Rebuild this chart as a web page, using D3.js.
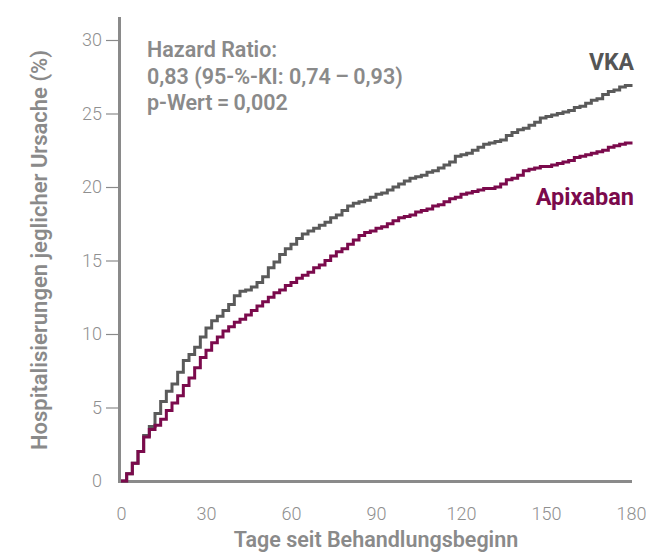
<!DOCTYPE html>
<html>
<head>
<meta charset="utf-8">
<script src="https://cdn.jsdelivr.net/npm/d3@7"></script>
<style>
html,body{margin:0;padding:0;background:#fff;}
svg{display:block;}
</style>
</head>
<body>
<svg id="chart" width="646" height="552"></svg>
<script>
const days = [0,2,4,6,8,10,12,14,16,18,20,22,24,26,28,30,32,34,36,38,40,42,44,46,48,50,52,54,56,58,60,62,64,66,68,70,72,74,76,78,80,82,84,86,88,90,92,94,96,98,100,102,104,106,108,110,112,114,116,118,120,122,124,126,128,130,132,134,136,138,140,142,144,146,148,150,152,154,156,158,160,162,164,166,168,170,172,174,176,178,180];
const vka = [0,0.5,1.2,2.0,3.1,3.7,4.6,5.4,6.1,6.6,7.4,8.2,8.6,9.1,9.8,10.4,10.9,11.2,11.6,12.0,12.6,12.9,13.0,13.2,13.5,13.9,14.5,14.9,15.4,15.8,16.1,16.5,16.8,17.0,17.2,17.4,17.6,17.9,18.1,18.4,18.7,18.9,19.0,19.1,19.3,19.5,19.6,19.8,20.0,20.2,20.4,20.6,20.7,20.8,21.0,21.1,21.3,21.5,21.7,22.1,22.2,22.3,22.5,22.7,22.9,23.0,23.1,23.2,23.5,23.7,23.9,24.0,24.2,24.4,24.7,24.8,24.9,25.0,25.1,25.2,25.4,25.5,25.7,25.9,26.0,26.3,26.5,26.6,26.8,26.9,27.0];
const apixaban = [0,0.5,1.2,2.0,3.0,3.5,3.8,4.2,4.8,5.3,5.8,6.5,7.0,7.7,8.4,8.9,9.4,9.8,10.2,10.5,10.8,11.0,11.3,11.6,11.9,12.2,12.5,12.8,13.0,13.3,13.5,13.8,14.0,14.2,14.5,14.7,15.0,15.3,15.6,15.8,16.1,16.4,16.7,16.9,17.0,17.2,17.3,17.5,17.7,17.9,18.0,18.1,18.3,18.4,18.5,18.7,18.8,19.0,19.2,19.3,19.5,19.6,19.7,19.8,19.9,19.9,20.0,20.2,20.5,20.6,20.8,21.1,21.2,21.3,21.4,21.4,21.5,21.6,21.7,21.8,22.0,22.1,22.2,22.3,22.4,22.5,22.7,22.8,22.9,23.0,23.1];
const xTicks = [0,30,60,90,120,150,180];
const yTicks = [0,5,10,15,20,25,30];
const seriesNames = ["VKA","Apixaban"];
const annotation = ["Hazard Ratio:","0,83 (95-%-KI: 0,74\u2009\u2013\u20090,93)","p-Wert\u2009=\u20090,002"];
const xTitle = "Tage seit Behandlungsbeginn";
const yTitle = "Hospitalisierungen jeglicher Ursache (%)";

const svg = d3.select("#chart");
const x = d3.scaleLinear().domain([0,180]).range([121,631]);
const y = d3.scaleLinear().domain([0,30]).range([481,40]);
const axisCol = "#8a8a8a";
const font = "Roboto, 'Open Sans', sans-serif";

// y axis ticks
const yAxis = svg.append("g").attr("transform","translate(119,0)")
  .call(d3.axisLeft(y).tickValues(yTicks).tickSize(13).tickPadding(4).tickFormat(d3.format("d")));
yAxis.select(".domain").remove();
yAxis.selectAll(".tick line").attr("stroke",axisCol).attr("stroke-width",1.2);
yAxis.selectAll(".tick text").attr("fill","#8f8f8f").attr("font-family",font).attr("font-weight",300).attr("font-size",18);
yAxis.selectAll(".tick").filter(d=>d===0).select("line").remove();

// x axis
const xAxis = svg.append("g").attr("transform","translate(0,481)")
  .call(d3.axisBottom(x).tickValues(xTicks).tickSize(0).tickPadding(26).tickFormat(d3.format("d")));
xAxis.select(".domain").remove();
xAxis.selectAll(".tick text").attr("fill","#8f8f8f").attr("font-family",font).attr("font-weight",300).attr("font-size",18);

// axis lines
svg.append("line").attr("x1",119.5).attr("x2",119.5).attr("y1",17).attr("y2",483).attr("stroke",axisCol).attr("stroke-width",3);
svg.append("line").attr("x1",118).attr("x2",632).attr("y1",481.5).attr("y2",481.5).attr("stroke",axisCol).attr("stroke-width",3);

// curves
const line = d3.line().curve(d3.curveStepAfter).x(d=>x(d[0])).y(d=>y(d[1]));
svg.append("path").datum(days.map((d,i)=>[d,vka[i]]))
  .attr("d",line).attr("fill","none").attr("stroke","#5a5a5a").attr("stroke-width",3);
svg.append("path").datum(days.map((d,i)=>[d,apixaban[i]]))
  .attr("d",line).attr("fill","none").attr("stroke","#7b0a4c").attr("stroke-width",3);

// series labels
svg.append("text").attr("x",634).attr("y",70).attr("text-anchor","end")
  .attr("font-family",font).attr("font-weight",700).attr("font-size",23).attr("fill","#555555").text(seriesNames[0]);
svg.append("text").attr("x",634).attr("y",205).attr("text-anchor","end")
  .attr("font-family",font).attr("font-weight",700).attr("font-size",23.5).attr("fill","#7b0a4c").text(seriesNames[1]);

// annotation
annotation.forEach((t,i)=>{
  svg.append("text").attr("x",147).attr("y",57+i*26.5)
    .attr("font-family",font).attr("font-weight",600).attr("font-size",21.5).attr("fill","#8a8a8a").text(t);
});

// titles
svg.append("text").attr("x",376).attr("y",547).attr("text-anchor","middle")
  .attr("font-family",font).attr("font-weight",600).attr("font-size",21.5).attr("fill","#8a8a8a").text(xTitle);
svg.append("text").attr("transform","translate(47,250) rotate(-90)").attr("text-anchor","middle")
  .attr("font-family",font).attr("font-weight",600).attr("font-size",22).attr("fill","#8a8a8a").text(yTitle);
</script>
</body>
</html>
